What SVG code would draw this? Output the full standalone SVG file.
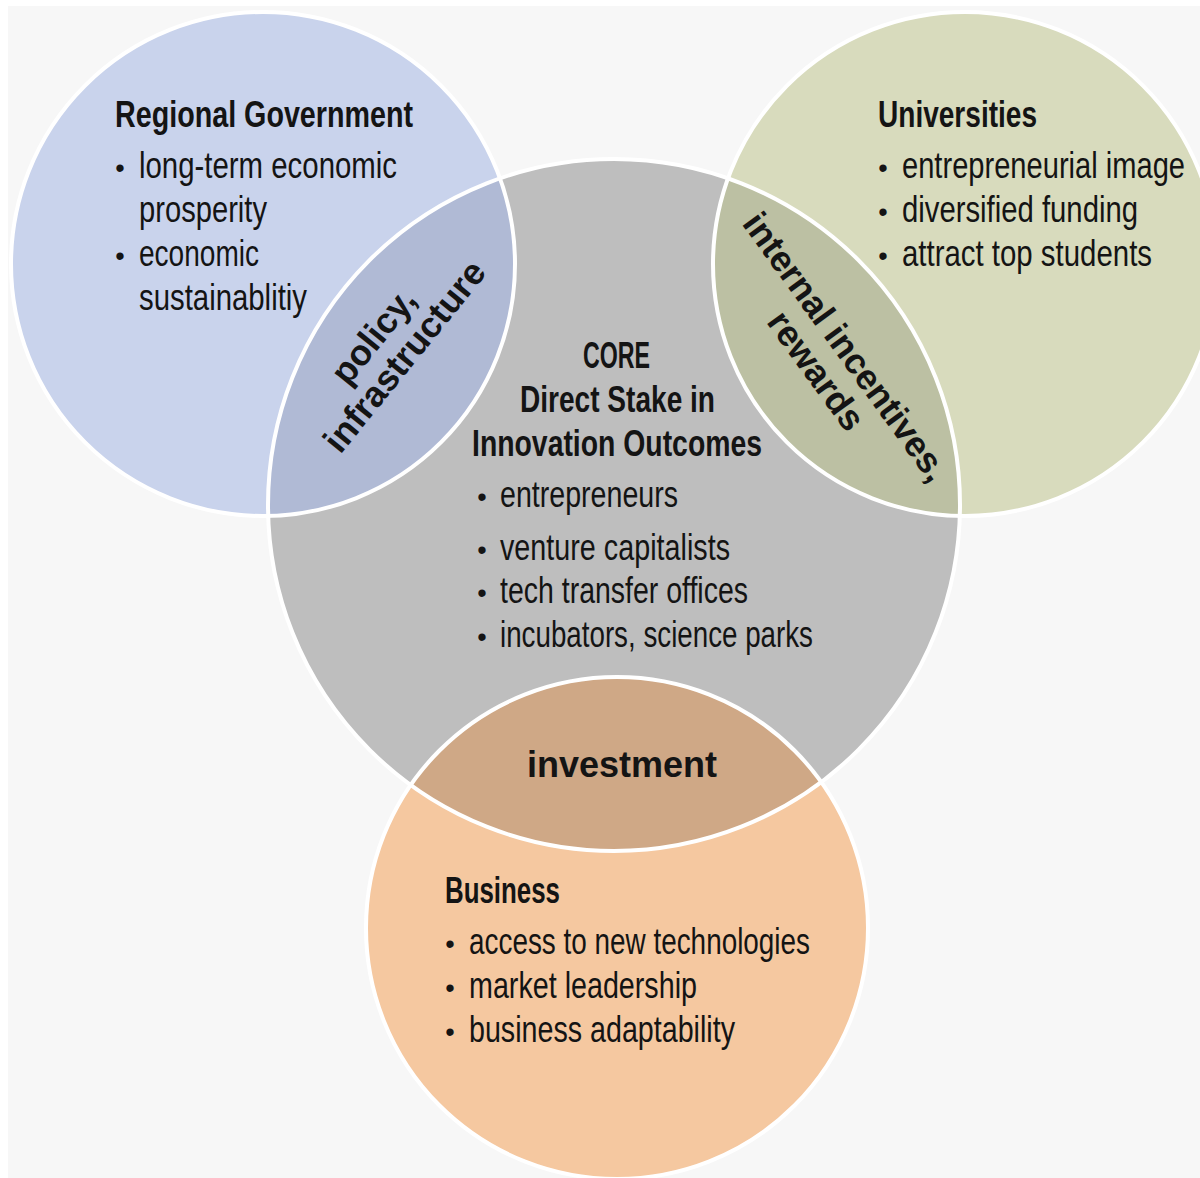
<svg xmlns="http://www.w3.org/2000/svg" width="1200" height="1178" viewBox="0 0 1200 1178">
  <style>
    .t { font-family: "Liberation Sans Narrow", "Liberation Sans", Arial, sans-serif; font-size: 36px; fill: #141414; }
    .h { font-weight: bold; }
    .bl { font-family: "Liberation Sans", Arial, sans-serif; font-size: 27px; fill: #141414; text-anchor: middle; }
    .lz { font-family: "Liberation Sans", Arial, sans-serif; font-size: 36px; font-weight: bold; fill: #141414; text-anchor: middle; }
    .ol { fill: none; stroke: #ffffff; stroke-width: 4; }
  </style>
  <defs>
    <clipPath id="clipBlue"><circle cx="263" cy="264" r="252"/></clipPath>
    <clipPath id="clipGreen"><circle cx="965" cy="264" r="252"/></clipPath>
    <clipPath id="clipBiz"><circle cx="617" cy="928" r="251"/></clipPath>
  </defs>

  <rect x="0" y="0" width="1200" height="1178" fill="#ffffff"/>
  <rect x="8" y="6" width="1192" height="1172" fill="#f7f7f7"/>

  <g id="regional-government">
    <circle cx="263" cy="264" r="252" fill="#c9d3ec"/>
    <text class="t h" x="115" y="127" textLength="298" lengthAdjust="spacingAndGlyphs">Regional Government</text>
    <text class="bl" x="120" y="177">•</text>
    <text class="t" x="139" y="178" textLength="258" lengthAdjust="spacingAndGlyphs">long-term economic</text>
    <text class="t" x="139" y="222" textLength="128" lengthAdjust="spacingAndGlyphs">prosperity</text>
    <text class="bl" x="120" y="265">•</text>
    <text class="t" x="139" y="266" textLength="120" lengthAdjust="spacingAndGlyphs">economic</text>
    <text class="t" x="139" y="310" textLength="168" lengthAdjust="spacingAndGlyphs">sustainablitiy</text>
  </g>

  <g id="universities">
    <circle cx="965" cy="264" r="252" fill="#d8dbbd"/>
    <text class="t h" x="878" y="127" textLength="159" lengthAdjust="spacingAndGlyphs">Universities</text>
    <text class="bl" x="883" y="177">•</text>
    <text class="t" x="902" y="178" textLength="283" lengthAdjust="spacingAndGlyphs">entrepreneurial image</text>
    <text class="bl" x="883" y="221">•</text>
    <text class="t" x="902" y="222" textLength="236" lengthAdjust="spacingAndGlyphs">diversified funding</text>
    <text class="bl" x="883" y="265">•</text>
    <text class="t" x="902" y="266" textLength="250" lengthAdjust="spacingAndGlyphs">attract top students</text>
  </g>

  <g id="business">
    <circle cx="617" cy="928" r="251" fill="#f5c8a0"/>
    <text class="t h" x="445" y="903" textLength="115" lengthAdjust="spacingAndGlyphs">Business</text>
    <text class="bl" x="450" y="953">•</text>
    <text class="t" x="469" y="954" textLength="341" lengthAdjust="spacingAndGlyphs">access to new technologies</text>
    <text class="bl" x="450" y="997">•</text>
    <text class="t" x="469" y="998" textLength="228" lengthAdjust="spacingAndGlyphs">market leadership</text>
    <text class="bl" x="450" y="1041">•</text>
    <text class="t" x="469" y="1042" textLength="266" lengthAdjust="spacingAndGlyphs">business adaptability</text>
  </g>

  <g id="core">
    <circle cx="614" cy="505" r="346" fill="#bebebe"/>
    <text class="t h" x="583" y="368" textLength="67" lengthAdjust="spacingAndGlyphs">CORE</text>
    <text class="t h" x="520" y="412" textLength="195" lengthAdjust="spacingAndGlyphs">Direct Stake in</text>
    <text class="t h" x="472" y="456" textLength="290" lengthAdjust="spacingAndGlyphs">Innovation Outcomes</text>
    <text class="bl" x="482" y="506">•</text>
    <text class="t" x="500" y="507" textLength="178" lengthAdjust="spacingAndGlyphs">entrepreneurs</text>
    <text class="bl" x="482" y="559">•</text>
    <text class="t" x="500" y="560" textLength="230" lengthAdjust="spacingAndGlyphs">venture capitalists</text>
    <text class="bl" x="482" y="602">•</text>
    <text class="t" x="500" y="603" textLength="248" lengthAdjust="spacingAndGlyphs">tech transfer offices</text>
    <text class="bl" x="482" y="646">•</text>
    <text class="t" x="500" y="647" textLength="313" lengthAdjust="spacingAndGlyphs">incubators, science parks</text>
  </g>

  <g id="lens-policy-infrastructure">
    <circle cx="614" cy="505" r="346" fill="#b0bad5" clip-path="url(#clipBlue)"/>
    <g transform="translate(414,364) rotate(-51)">
      <text class="lz" x="-4" y="-37">policy,</text>
      <text class="lz" x="0" y="0">infrastructure</text>
    </g>
  </g>

  <g id="lens-internal-incentives-rewards">
    <circle cx="614" cy="505" r="346" fill="#bcc0a3" clip-path="url(#clipGreen)"/>
    <g transform="translate(836,354) rotate(54)">
      <text class="lz" x="0" y="0" textLength="322" lengthAdjust="spacingAndGlyphs">internal incentives,</text>
      <text class="lz" x="2" y="38">rewards</text>
    </g>
  </g>

  <g id="lens-investment">
    <circle cx="614" cy="505" r="346" fill="#cfa886" clip-path="url(#clipBiz)"/>
    <text class="lz" x="622" y="777">investment</text>
  </g>

  <g id="outlines">
    <circle class="ol" cx="263" cy="264" r="252"/>
    <circle class="ol" cx="965" cy="264" r="252"/>
    <circle class="ol" cx="617" cy="928" r="251"/>
    <circle class="ol" cx="614" cy="505" r="346"/>
  </g>
</svg>
